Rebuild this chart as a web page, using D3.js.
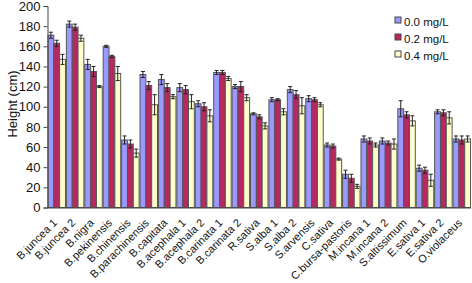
<!DOCTYPE html>
<html><head><meta charset="utf-8">
<script src="https://cdn.jsdelivr.net/npm/d3@7"></script>
<style>body{margin:0;background:#fff}svg{display:block;font-family:"Liberation Sans",Arial,sans-serif}</style>
</head><body><svg id="c" width="472" height="283"></svg>
<script>
const categories = ["B.juncea 1","B.juncea 2","B.nigra","B.pekinensis","B.chinensis","B.parachinensis","B.capitata","B.acephala 1","B.acephala 2","B.carinata 1","B.carinata 2","R.sativa","S.alba 1","S.alba 2","S.arvensis","C.sativa","C.bursa-pastoris","M.incana 1","M.incana 2","S.altissimum","E.sativa 1","E.sativa 2","O.violaceus"];
const seriesNames = ["0.0 mg/L","0.2 mg/L","0.4 mg/L"];
const values00 = [171,182,142,160,67,132,127,119,103,134,120,93,107,117,108,62,33,68,66,98,39,95,68];
const values02 = [163,179,135,150,63,121,119,117,100,134,120,90,107,112,107,61,29,66,64,92,37,94,67];
const values04 = [147,168,120,133,54,102,110,105,91,128,109,81,95,101,102,48,21,62,63,86,27,89,68];
const errors00 = [3,3,5,1,4,3,5,4,3,2,2,1,2,3,3,2,4,3,3,8,3,2,3];
const errors02 = [3,3,5,1,4,4,4,4,4,2,5,2,1,4,2,2,4,3,2,3,3,3,4];
const errors04 = [5,3,1,7,4,10,2,7,6,2,3,3,3,8,2,1,2,2,5,5,6,6,3];
const yTicks = [0,20,40,60,80,100,120,140,160,180,200];
const colors = ["#9999FF","#B82860","#FFFFCC"];

const svg = d3.select("#c");
const x0 = d3.scaleBand().domain(categories).range([47.5,471]).paddingInner(0.05).paddingOuter(0.025);
const x1 = d3.scaleBand().domain(seriesNames).range([0,x0.bandwidth()]);
const y = d3.scaleLinear().domain([0,200]).range([207.5,6]);

const series = [values00,values02,values04];
const errs = [errors00,errors02,errors04];

const g = svg.append("g");
seriesNames.forEach((s,si)=>{
  categories.forEach((c,ci)=>{
    const v = series[si][ci], e = errs[si][ci];
    const bx = x0(c)+x1(s);
    g.append("rect").attr("x",bx).attr("y",y(v)).attr("width",x1.bandwidth()).attr("height",y(0)-y(v))
      .attr("fill",colors[si]).attr("stroke","#555").attr("stroke-width",1);
    const cx = bx + x1.bandwidth()/2;
    const eg = g.append("g").attr("stroke","#222").attr("stroke-width",1);
    eg.append("line").attr("x1",cx).attr("x2",cx).attr("y1",y(v+e)).attr("y2",y(v-e));
    eg.append("line").attr("x1",cx-2).attr("x2",cx+2).attr("y1",y(v+e)).attr("y2",y(v+e));
    eg.append("line").attr("x1",cx-2).attr("x2",cx+2).attr("y1",y(v-e)).attr("y2",y(v-e));
  });
});

// y axis
const ya = svg.append("g").attr("transform","translate(47.5,0)")
  .call(d3.axisLeft(y).tickValues(yTicks).tickSize(4).tickPadding(3));
ya.select(".domain").attr("stroke","#444");
ya.selectAll(".tick line").attr("stroke","#444");
ya.selectAll("text").attr("font-size","13px").attr("fill","#111").attr("font-family","Liberation Sans, Arial, sans-serif");

// x axis
const xa = svg.append("g").attr("transform","translate(0,207.5)")
  .call(d3.axisBottom(x0).tickSize(0).tickPadding(0));
xa.select(".domain").attr("stroke","#444").attr("d","M47.5,0.5H471");
xa.selectAll("text").attr("font-size","11px").attr("fill","#111").attr("font-family","Liberation Sans, Arial, sans-serif")
  .attr("text-anchor","end").attr("dy","0").attr("y",0)
  .attr("transform","translate(1,16) rotate(-45)");

svg.append("text").attr("transform","translate(17,104) rotate(-90)").attr("text-anchor","middle")
  .attr("font-size","13px").attr("fill","#111").text("Height (cm)");

// legend
const lg = svg.append("g");
seriesNames.forEach((s,i)=>{
  const ly = 21 + i*17;
  lg.append("rect").attr("x",395).attr("y",ly-4).attr("width",6).attr("height",6)
    .attr("fill",colors[i]).attr("stroke","#444").attr("stroke-width",1);
  lg.append("text").attr("x",404).attr("y",ly+4.5).attr("font-size","11.5px").attr("fill","#111").text(s);
});
</script></body></html>
